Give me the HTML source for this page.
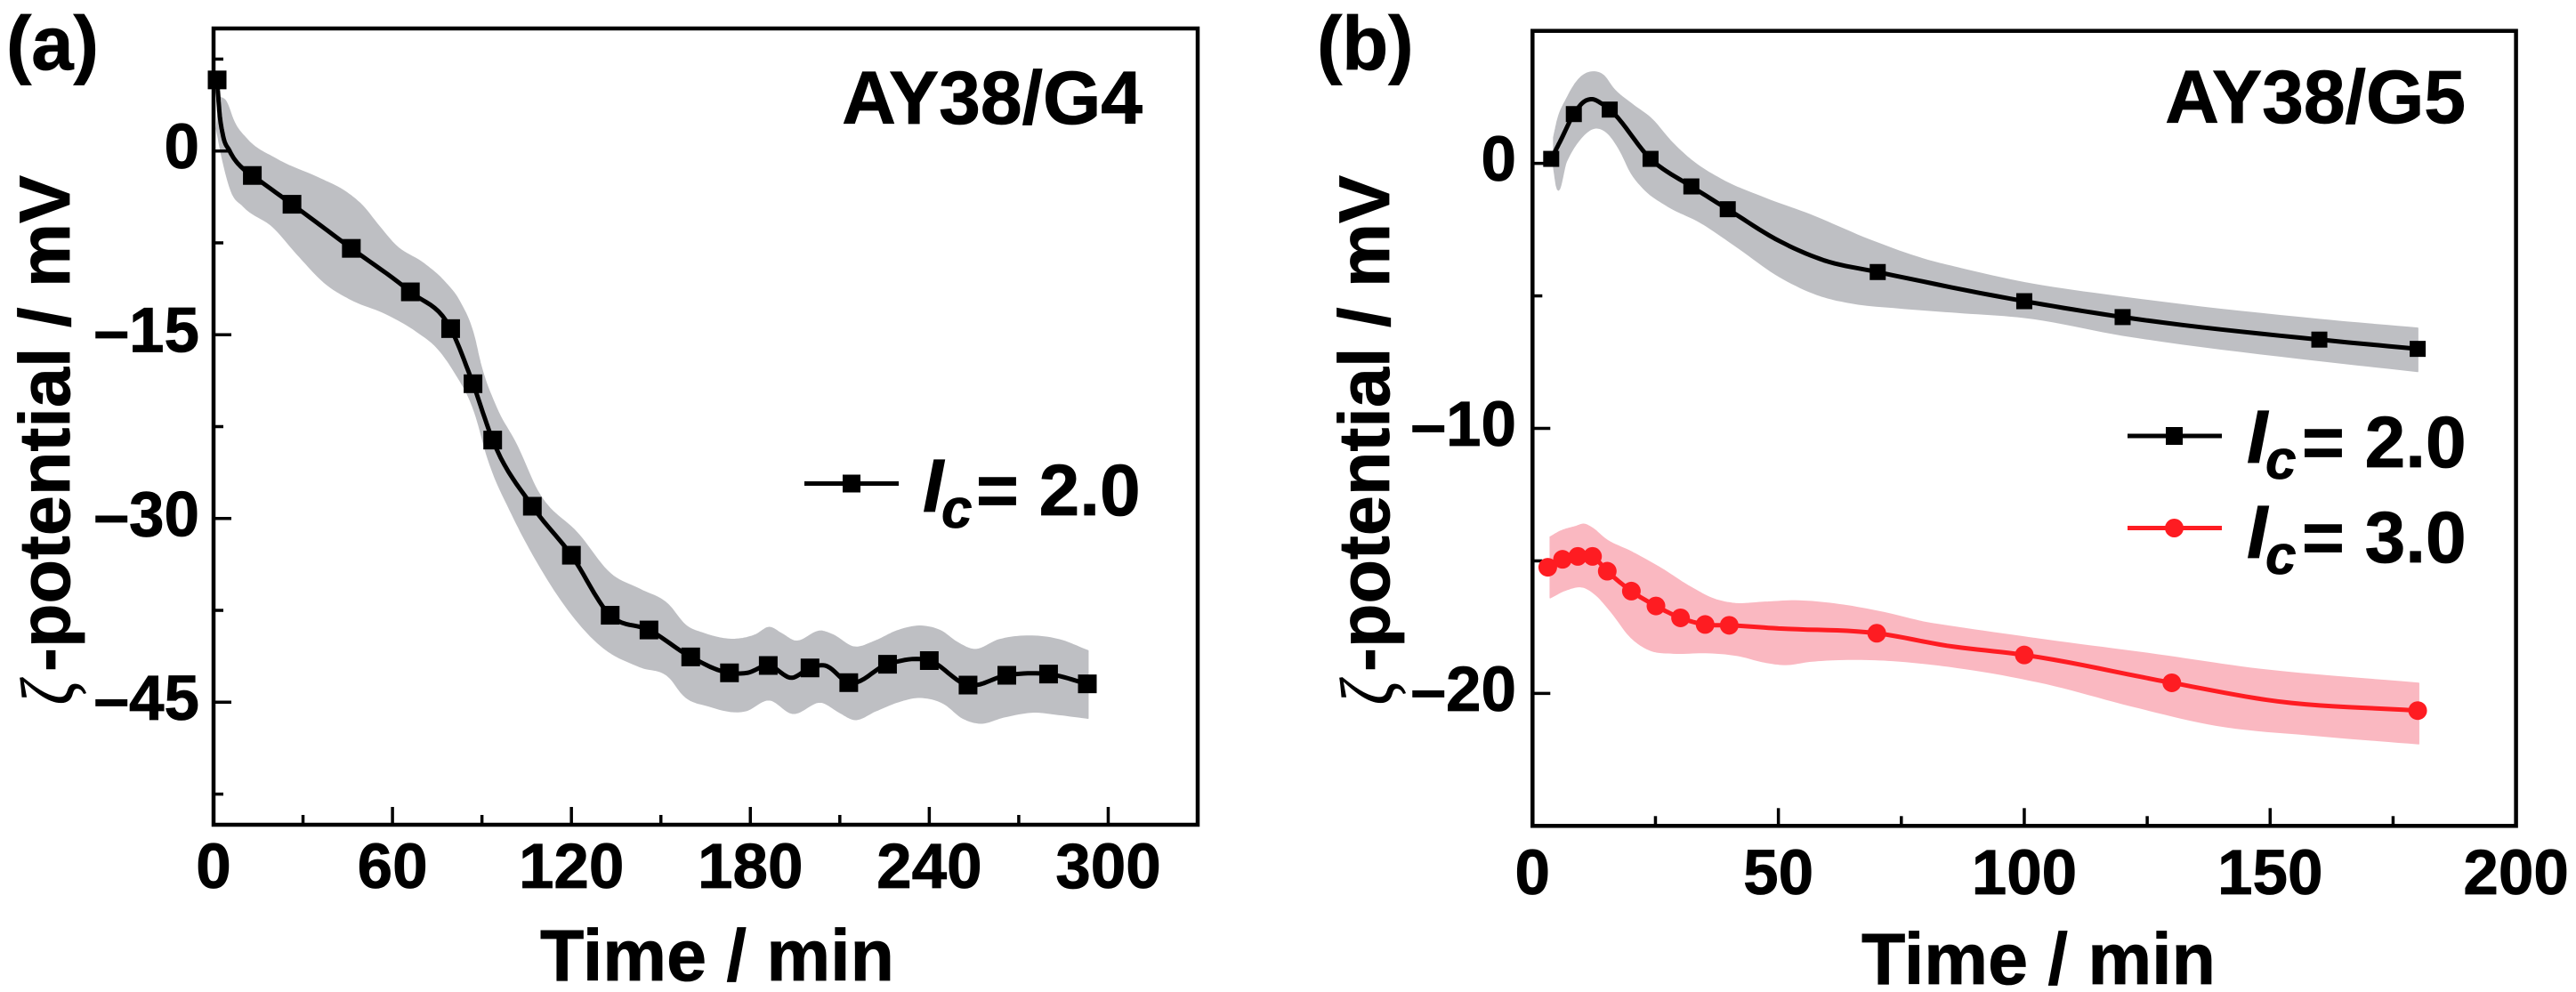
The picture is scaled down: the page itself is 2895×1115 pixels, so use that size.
<!DOCTYPE html>
<html lang="en">
<head>
<meta charset="utf-8">
<title>Zeta potential over time</title>
<style>
html,body{margin:0;padding:0;background:#fff;}
svg{display:block;}
text{font-family:"Liberation Sans",sans-serif;font-weight:bold;fill:#000;stroke:#000;stroke-width:0.8px;}
.ital{font-style:italic;}
.zeta{font-family:"Liberation Serif",serif;font-style:italic;font-weight:normal;}
</style>
</head>
<body>
<svg id="figure" xmlns="http://www.w3.org/2000/svg" width="2895" height="1115" viewBox="0 0 2895 1115">
  <rect x="0" y="0" width="2895" height="1115" fill="#fff"/>

  <g id="panelA"></g>
  <g id="panelB"></g>

  <text x="7" y="78" font-size="85">(a)</text>
  <text x="1480" y="78" font-size="85">(b)</text>

  <text x="1284" y="139" font-size="84" text-anchor="end">AY38/G4</text>
  <text x="2771" y="138" font-size="84" text-anchor="end">AY38/G5</text>

  <text class="zeta" transform="translate(82,792) rotate(-90) scale(0.78,1)" font-size="85">ζ</text>
  <text transform="translate(78,755) rotate(-90)" font-size="81">-potential / mV</text>
  <text class="zeta" transform="translate(1565,792) rotate(-90) scale(0.78,1)" font-size="85">ζ</text>
  <text transform="translate(1561,755) rotate(-90)" font-size="81">-potential / mV</text>

  <text transform="translate(607,1102) scale(0.985,1)" font-size="82">Time / min</text>
  <text transform="translate(2092,1106) scale(0.985,1)" font-size="82">Time / min</text>

  <g>
    <line x1="904" y1="543.5" x2="1010" y2="543.5" stroke="#000" stroke-width="5"/>
    <rect x="947" y="533.5" width="20" height="20" fill="#000"/>
    <text class="ital" x="1037" y="575" font-size="84">I</text>
    <text class="ital" x="1058" y="593" font-size="62">c</text>
    <text x="1097" y="579" font-size="82">= 2.0</text>
  </g>

  <g>
    <line x1="2391" y1="490" x2="2497" y2="490" stroke="#000" stroke-width="5"/>
    <rect x="2434" y="480" width="19" height="20" fill="#000"/>
    <text class="ital" x="2525" y="520" font-size="84">I</text>
    <text class="ital" x="2546" y="538" font-size="62">c</text>
    <text x="2587" y="525" font-size="82">= 2.0</text>

    <line x1="2391" y1="593.5" x2="2497" y2="593.5" stroke="#fe1c22" stroke-width="5"/>
    <circle cx="2443.5" cy="593.5" r="10.5" fill="#fe1c22"/>
    <text class="ital" x="2525" y="627" font-size="84">I</text>
    <text class="ital" x="2546" y="645" font-size="62">c</text>
    <text x="2587" y="632" font-size="82">= 3.0</text>
  </g>
</svg>

<script>
/* ---------- Panel (a) data: AY38/G4, Ic = 2.0 ---------- */
const aTimes  = [1.2,13,26.3,46.2,66,79.5,87,93.6,106.9,120,133,146,160,173,186,200,213,226,240,253,266,280,293];
const aValues = [5.8,-2,-4.35,-7.95,-11.5,-14.5,-19,-23.6,-29,-33,-37.9,-39.1,-41.3,-42.6,-42,-42.2,-43.4,-41.9,-41.6,-43.6,-42.8,-42.7,-43.5];
const aCurveTimes  = [2,3,5.4,10,179,194,205];
const aCurveValues = [3.1,1.45,0,-1.47,-42.6,-43,-42];
const aUpperTimes  = [2,4,7,11,21,36,44,50,55,61,70.5,77.5,82.5,87.4,89.4,94.7,101.6,108.5,122.4,133,143,152.3,158.2,164.5,177.5,181.8,186.4,190.4,194.7,204,207.6,214.8,222,229,237.7,244,249.2,254.9,263.5,273.5,283.5,293.2];
const aUpperValues = [4.4,4.1,2.3,1,-0.66,-2.3,-3.3,-4.5,-6,-7.7,-9.2,-10.7,-12.3,-15.2,-17.3,-20.9,-24,-27.7,-31.3,-34.5,-35.8,-37,-38.7,-39.4,-39.8,-39.5,-38.9,-39.4,-40,-39.2,-39.5,-40.5,-40,-39.2,-38.8,-39.2,-40.1,-40.7,-39.9,-39.6,-39.9,-40.8];
const aLowerTimes  = [1,3,6,10,20,28,38,46,58,68,75.5,80.5,87.7,91.9,100.2,107.3,131,143,153,157.5,166,178.3,186.4,194,204,209.8,214.8,222,229,237,244.9,251.3,257,265,275,283.5,293.2];
const aLowerValues = [1.8,-0.66,-3.3,-4.5,-6.2,-8.4,-10.9,-12.1,-13.3,-14.7,-16.2,-17.9,-21.4,-25,-29.7,-33,-40.6,-42.1,-43,-44.4,-45.3,-45.7,-44.8,-45.9,-45,-45.8,-46.4,-45.7,-45,-44.6,-45.1,-46.3,-46.7,-46.2,-45.8,-46,-46.3];
const aXMajorTicks = [0,60,120,180,240,300];
const aXMinorTicks = [30,90,150,210,270,330];
const aYMajorTicks = [0,-15,-30,-45];
const aYMinorTicks = [7.5,-7.5,-22.5,-37.5,-52.5];

/* ---------- Panel (b) data: AY38/G5, Ic = 2.0 ---------- */
const bBlackTimes  = [3.8,8.4,15.7,24,32.3,39.7,70.2,100,120,160,180];
const bBlackValues = [0.17,1.86,2.03,0.17,-0.87,-1.73,-4.1,-5.2,-5.8,-6.65,-7];
const bBlackCurveTimes  = [5.7,10.5,12.2,14.1,50.3,59.3];
const bBlackCurveValues = [0.86,2.33,2.42,2.25,-2.94,-3.66];
const bBlackUpperTimes  = [4.3,5.1,6.9,9.3,12.3,14.4,16.5,20.1,24.4,28,32.2,38.2,47.3,56.3,68.4,80.4,86.4,100,120,160,180];
const bBlackUpperValues = [0.97,1.64,2.42,3.15,3.45,3.32,2.81,2.25,1.64,0.86,0.13,-0.59,-1.32,-1.93,-2.88,-3.66,-3.94,-4.5,-5.05,-5.89,-6.22];
const bBlackLowerTimes  = [4.3,4.9,6.9,9.9,12.6,15.3,17.7,20.1,22.5,27.4,34,41.2,50.3,58.7,65.3,74.4,86.4,100,120,160,180];
const bBlackLowerValues = [-0.15,-0.87,0.08,0.97,1.33,1.14,0.52,-0.37,-0.93,-1.6,-2.21,-3.1,-4.28,-5,-5.28,-5.45,-5.62,-5.81,-6.48,-7.44,-7.85];

/* ---------- Panel (b) data: AY38/G5, Ic = 3.0 ---------- */
const bRedTimes  = [3.1,6.1,9.2,12.2,15.2,20.1,25.1,30.1,35.1,40,70,100,130,180];
const bRedValues = [-15.24,-14.94,-14.83,-14.83,-15.39,-16.14,-16.7,-17.15,-17.4,-17.43,-17.73,-18.55,-19.6,-20.65];
const bRedCurveTimes  = [50,84.3,151.5];
const bRedCurveValues = [-17.55,-18.2,-20.3];
const bRedUpperTimes  = [3.6,5.7,8.7,10.5,12.2,14.7,20.1,26.1,32.2,37,40.6,47.3,53.3,62.3,71.4,80.4,86.4,104.5,127.3,146,180.2];
const bRedUpperValues = [-14.1,-13.88,-13.71,-13.62,-13.77,-14.16,-14.66,-15.28,-16,-16.45,-16.6,-16.56,-16.51,-16.65,-16.95,-17.34,-17.51,-17.99,-18.55,-19.05,-19.62];
const bRedLowerTimes  = [3.6,6.6,10.5,12.9,15.9,20.1,23.7,28.6,35.2,41.8,47.3,51.5,56.3,62.3,71.4,80.4,86.4,104.5,121.8,139,159.7,180.2];
const bRedLowerValues = [-16.39,-16.11,-16,-16.28,-16.9,-17.9,-18.35,-18.48,-18.46,-18.57,-18.82,-18.91,-18.79,-18.72,-18.74,-18.88,-19.02,-19.63,-20.47,-21.2,-21.59,-21.9];
const bXMajorTicks = [0,50,100,150,200];
const bXMinorTicks = [25,75,125,175];
const bYMajorTicks = [0,-10,-20];
const bYMinorTicks = [-5,-15];

/* ---------- Drawing ---------- */
const SVG_NS = 'http://www.w3.org/2000/svg';

function make(parent, tag, attrs) {
  const el = document.createElementNS(SVG_NS, tag);
  for (const k in attrs) el.setAttribute(k, attrs[k]);
  parent.appendChild(el);
  return el;
}

function sampleSpline(ts, vs) {
  const n = ts.length, m = new Array(n), out = [];
  for (let i = 0; i < n; i++) {
    if (i === 0) { m[i] = (vs[1] - vs[0]) / (ts[1] - ts[0]); continue; }
    if (i === n - 1) { m[i] = (vs[i] - vs[i-1]) / (ts[i] - ts[i-1]); continue; }
    const h0 = ts[i] - ts[i-1], h1 = ts[i+1] - ts[i];
    const s0 = (vs[i] - vs[i-1]) / h0, s1 = (vs[i+1] - vs[i]) / h1;
    m[i] = (s0 * h1 + s1 * h0) / (h0 + h1);
  }
  for (let i = 0; i < n - 1; i++) {
    const h = ts[i+1] - ts[i], steps = 10;
    for (let j = 0; j < steps; j++) {
      const u = j / steps, u2 = u*u, u3 = u2*u;
      out.push([
        ts[i] + u*h,
        (2*u3-3*u2+1)*vs[i] + (u3-2*u2+u)*h*m[i] + (-2*u3+3*u2)*vs[i+1] + (u3-u2)*h*m[i+1]
      ]);
    }
  }
  out.push([ts[n-1], vs[n-1]]);
  return out;
}

function mergeKnots(t1, v1, t2, v2) {
  const pairs = t1.map((t, i) => [t, v1[i]]).concat(t2.map((t, i) => [t, v2[i]]));
  pairs.sort((p, q) => p[0] - q[0]);
  return [pairs.map(p => p[0]), pairs.map(p => p[1])];
}

function fmtTick(v) {
  return v < 0 ? '\u2013' + Math.abs(v) : String(v);
}

function drawAxes(g, ax, prefix) {
  const sx = ax.sx, sy = ax.sy;
  const box = make(g, 'rect', {x: ax.left, y: ax.top, width: ax.right - ax.left, height: ax.bottom - ax.top, fill: 'none', stroke: '#000', 'stroke-width': 4.5});
  
  

  ax.xMajor.forEach(v => {
    const t = make(g, 'line', {x1: sx(v), x2: sx(v), y1: ax.bottom, y2: ax.bottom - 20, stroke: '#000', 'stroke-width': 3.5});
    
    
    const l = make(g, 'text', {x: sx(v), y: ax.xLabelY, 'font-size': 71, 'text-anchor': 'middle'});
    l.textContent = String(v);
    
    
  });
  ax.xMinor.forEach(v => {
    const t = make(g, 'line', {x1: sx(v), x2: sx(v), y1: ax.bottom, y2: ax.bottom - 11, stroke: '#000', 'stroke-width': 3.5});
    
    
  });
  ax.yMajor.forEach(v => {
    const t = make(g, 'line', {x1: ax.left, x2: ax.left + 20, y1: sy(v), y2: sy(v), stroke: '#000', 'stroke-width': 3.5});
    
    
    const l = make(g, 'text', {x: ax.yLabelX, y: sy(v) + 19.5, 'font-size': 71, 'text-anchor': 'end'});
    l.textContent = fmtTick(v);
    
    
  });
  ax.yMinor.forEach(v => {
    const t = make(g, 'line', {x1: ax.left, x2: ax.left + 11, y1: sy(v), y2: sy(v), stroke: '#000', 'stroke-width': 3.5});
    
    
  });
}

function drawBand(g, ax, upT, upV, loT, loV, fill, name) {
  const up = sampleSpline(upT, upV), lo = sampleSpline(loT, loV).reverse();
  const pts = up.concat(lo).map(p => ax.sx(p[0]).toFixed(1) + ',' + ax.sy(p[1]).toFixed(1)).join(' ');
  const poly = make(g, 'polygon', {points: pts, fill: fill, stroke: fill, 'stroke-width': 1.5, 'stroke-linejoin': 'round'});
  
  
}

function drawLine(g, ax, ts, vs, cT, cV, color, width, name) {
  const merged = mergeKnots(ts, vs, cT, cV);
  const pts = sampleSpline(merged[0], merged[1]).map(p => ax.sx(p[0]).toFixed(1) + ',' + ax.sy(p[1]).toFixed(1)).join(' ');
  const line = make(g, 'polyline', {points: pts, fill: 'none', stroke: color, 'stroke-width': width, 'stroke-linejoin': 'round'});
  
  
}

function drawSquares(g, ax, ts, vs, size, name) {
  ts.forEach((t, i) => {
    const r = make(g, 'rect', {x: ax.sx(t) - size/2, y: ax.sy(vs[i]) - size/2, width: size, height: size, fill: '#000'});
    
    
  });
}

function drawCircles(g, ax, ts, vs, radius, color, name) {
  ts.forEach((t, i) => {
    const c = make(g, 'circle', {cx: ax.sx(t), cy: ax.sy(vs[i]), r: radius, fill: color});
    
    
  });
}

function makeAxis(o) {
  o.sx = v => o.left + (v - o.xMin) / (o.xMax - o.xMin) * (o.right - o.left);
  o.sy = v => o.bottom - (v - o.yMin) / (o.yMax - o.yMin) * (o.bottom - o.top);
  return o;
}

const axA = makeAxis({
  left: 240, right: 1346, top: 32, bottom: 927,
  xMin: 0, xMax: 330, yMin: -55, yMax: 10,
  xMajor: aXMajorTicks, xMinor: aXMinorTicks, yMajor: aYMajorTicks, yMinor: aYMinorTicks,
  xLabelY: 998, yLabelX: 224
});
const axB = makeAxis({
  left: 1722.3, right: 2827.6, top: 34.7, bottom: 928.3,
  xMin: 0, xMax: 200, yMin: -25, yMax: 5,
  xMajor: bXMajorTicks, xMinor: bXMinorTicks, yMajor: bYMajorTicks, yMinor: bYMinorTicks,
  xLabelY: 1005, yLabelX: 1704
});

const gA = document.getElementById('panelA');
const gB = document.getElementById('panelB');

drawBand(gA, axA, aUpperTimes, aUpperValues, aLowerTimes, aLowerValues, '#bebfc3', 'panel-a-error-band');
drawAxes(gA, axA, 'panel-a');
drawLine(gA, axA, aTimes, aValues, aCurveTimes, aCurveValues, '#000', 5, 'panel-a-series-line');
drawSquares(gA, axA, aTimes, aValues, 21, 'panel-a-point');

drawBand(gB, axB, bBlackUpperTimes, bBlackUpperValues, bBlackLowerTimes, bBlackLowerValues, '#bebfc3', 'panel-b-black-error-band');
drawBand(gB, axB, bRedUpperTimes, bRedUpperValues, bRedLowerTimes, bRedLowerValues, '#fab8c1', 'panel-b-red-error-band');
drawAxes(gB, axB, 'panel-b');
drawLine(gB, axB, bBlackTimes, bBlackValues, bBlackCurveTimes, bBlackCurveValues, '#000', 5, 'panel-b-black-line');
drawSquares(gB, axB, bBlackTimes, bBlackValues, 18, 'panel-b-black-point');
drawLine(gB, axB, bRedTimes, bRedValues, bRedCurveTimes, bRedCurveValues, '#fe1c22', 5, 'panel-b-red-line');
drawCircles(gB, axB, bRedTimes, bRedValues, 10.5, '#fe1c22', 'panel-b-red-point');
</script>
</body>
</html>
